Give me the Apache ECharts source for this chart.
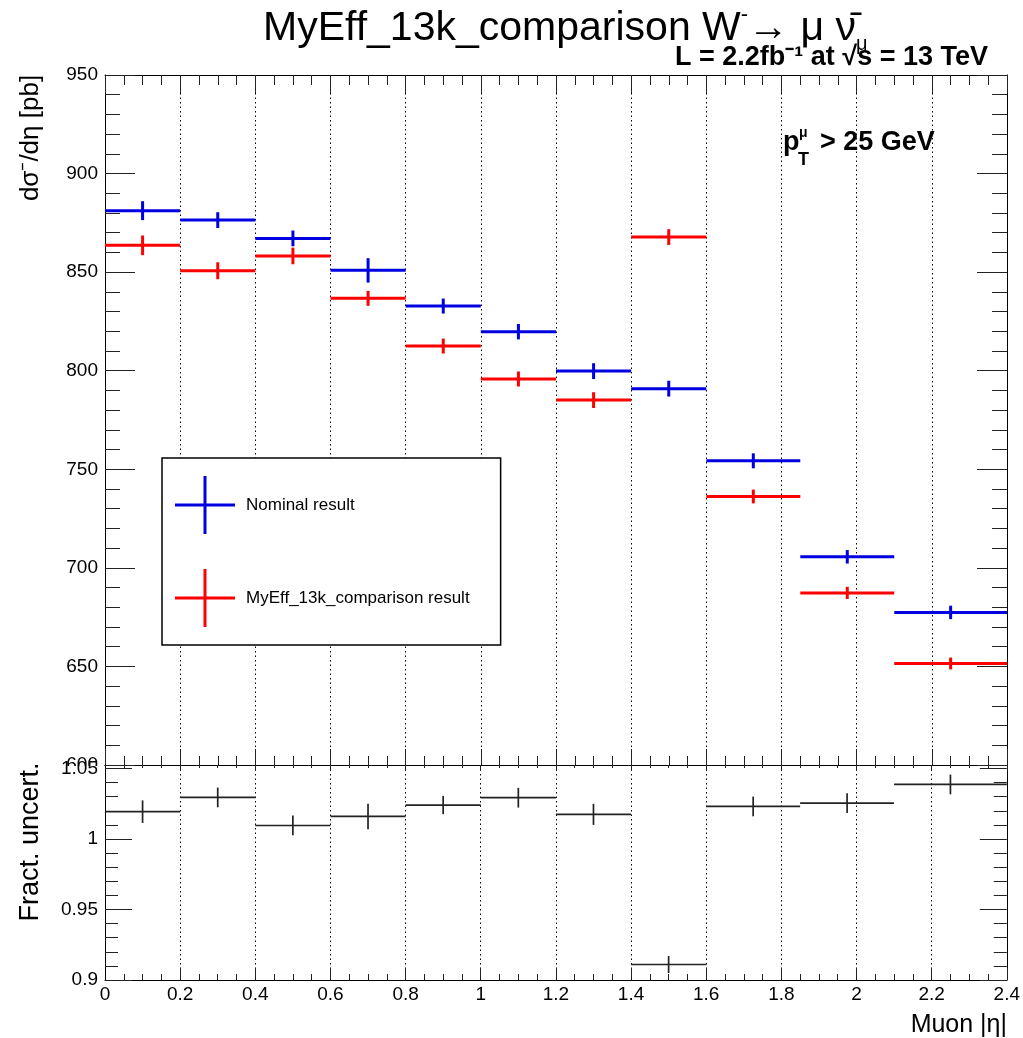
<!DOCTYPE html>
<html>
<head>
<meta charset="utf-8">
<script src="https://cdn.jsdelivr.net/npm/echarts@6/dist/echarts.min.js"></script>
<style>html,body{margin:0;padding:0;background:#fff;}#c{width:1023px;height:1038px;}</style>
</head>
<body>
<div id="c"></div>
<script>
// ---- data ----
const binEdges = [0, 0.2, 0.4, 0.6, 0.8, 1.0, 1.2, 1.4, 1.6, 1.85, 2.1, 2.4];
const nominal = [881.2, 876.4, 867.1, 850.9, 832.8, 819.8, 799.8, 790.9, 754.3, 705.6, 677.4];
const nominalErr = [4.8, 4.0, 4.0, 6.2, 3.8, 3.9, 4.0, 4.0, 3.8, 3.4, 3.4];
const comparison = [863.6, 850.7, 858.2, 836.7, 812.5, 795.8, 785.1, 867.8, 736.2, 687.3, 651.5];
const comparisonErr = [5.0, 4.3, 4.2, 3.8, 3.8, 3.8, 4.0, 4.0, 3.5, 3.1, 3.0];
const ratio = [1.0194, 1.0295, 1.0096, 1.0160, 1.0241, 1.0293, 1.0175, 0.9110, 1.0231, 1.0255, 1.0387];
const ratioErr = [0.008, 0.007, 0.007, 0.009, 0.0065, 0.007, 0.0075, 0.006, 0.007, 0.007, 0.007];
const xTicks = ['0', '0.2', '0.4', '0.6', '0.8', '1', '1.2', '1.4', '1.6', '1.8', '2', '2.2', '2.4'];

function rows(vals, errs) {
  return vals.map((v, i) => [binEdges[i], binEdges[i + 1], (binEdges[i] + binEdges[i + 1]) / 2, v, errs[i]]);
}
function makeRender(lw) {
  return function (params, api) {
    const lo = api.value(0), hi = api.value(1), c = api.value(2), v = api.value(3), e = api.value(4);
    const p1 = api.coord([lo, v]), p2 = api.coord([hi, v]);
    const p3 = api.coord([c, v - e]), p4 = api.coord([c, v + e]);
    const style = { stroke: api.visual('color'), lineWidth: lw };
    return {
      type: 'group',
      children: [
        { type: 'line', shape: { x1: p1[0], y1: p1[1], x2: p2[0], y2: p2[1] }, style: style },
        { type: 'line', shape: { x1: p3[0], y1: p3[1], x2: p4[0], y2: p4[1] }, style: style }
      ]
    };
  };
}

const FONT = 'Liberation Sans, Arial, sans-serif';
const BLUE = '#0000e0';
const RED = '#ff0000';
const plusIcon = 'path://M0,27.5H28.5V0H31.5V27.5H60V30.5H31.5V58H28.5V30.5H0Z';

const xLabelFmt = function (v) {
  const s = (Math.round(v * 10) / 10).toString();
  return xTicks.indexOf(s) >= 0 ? s : '';
};

function xAx(grid, pos, major, minor, labels, split) {
  return {
    type: 'value', gridIndex: grid, position: pos, min: 0, max: 2.4, interval: 0.2,
    axisLine: { show: true, onZero: false, lineStyle: { color: '#000', width: 1 } },
    axisTick: { show: true, inside: true, length: major, lineStyle: { color: '#222' } },
    minorTick: { show: true, splitNumber: 4, length: minor, lineStyle: { color: '#222' } },
    axisLabel: { show: labels, fontSize: 19, color: '#000', margin: 5, fontFamily: FONT, formatter: xLabelFmt },
    splitLine: { show: split, lineStyle: { color: '#000', width: 1, type: [1.5, 3] } }
  };
}

const option = {
  animation: false,
  backgroundColor: '#fff',
  textStyle: { fontFamily: FONT },
  title: {
    left: 263, top: 4, padding: 0,
    text: '{a|MyEff_13k_comparison W}{b|-}{a|→ μ ν̄}{c|μ}',
    textStyle: {
      fontWeight: 'normal',
      rich: {
        a: { fontSize: 41, fontFamily: FONT, fontWeight: 'normal', color: '#000', lineHeight: 50 },
        b: { fontSize: 22, fontFamily: FONT, fontWeight: 'normal', color: '#000', verticalAlign: 'top', lineHeight: 22 },
        c: { fontSize: 20, fontFamily: FONT, fontWeight: 'normal', color: '#000', verticalAlign: 'bottom', lineHeight: 20 }
      }
    }
  },
  legend: {
    orient: 'vertical', left: 162, top: 458,
    padding: [18, 31, 18, 13], itemGap: 35, itemWidth: 60, itemHeight: 58,
    borderColor: '#000', borderWidth: 1.5, backgroundColor: '#fff',
    textStyle: { fontSize: 17, color: '#000', fontFamily: FONT, padding: [0, 0, 0, 6] },
    data: [
      { name: 'Nominal result', icon: plusIcon, itemStyle: { color: BLUE } },
      { name: 'MyEff_13k_comparison result', icon: plusIcon, itemStyle: { color: RED } }
    ]
  },
  grid: [
    { left: 105, right: 16, top: 75, height: 690 },
    { left: 105, right: 16, top: 765, height: 215 }
  ],
  xAxis: [
    xAx(0, 'bottom', 16, 9, false, true),
    xAx(0, 'top', 18, 10, false, false),
    xAx(1, 'bottom', 12, 6, true, true),
    xAx(1, 'top', 6, 3, false, false)
  ],
  yAxis: [
    {
      type: 'value', gridIndex: 0, position: 'left', min: 600, max: 950, interval: 50, z: 0,
      axisLine: { show: true, onZero: false, lineStyle: { color: '#000', width: 1 } },
      axisTick: { show: true, inside: true, length: 30, lineStyle: { color: '#222' } },
      minorTick: { show: true, splitNumber: 5, length: 15, lineStyle: { color: '#222' } },
      axisLabel: { fontSize: 19, color: '#000', margin: 7, fontFamily: FONT },
      splitLine: { show: false }
    },
    {
      type: 'value', gridIndex: 0, position: 'right', min: 600, max: 950, interval: 50,
      axisLine: { show: true, onZero: false, lineStyle: { color: '#000', width: 1 } },
      axisTick: { show: true, inside: true, length: 30, lineStyle: { color: '#222' } },
      minorTick: { show: true, splitNumber: 5, length: 15, lineStyle: { color: '#222' } },
      axisLabel: { show: false },
      splitLine: { show: false }
    },
    {
      type: 'value', gridIndex: 1, position: 'left', min: 0.9, max: 1.0525, interval: 0.05, z: 5,
      axisLine: { show: true, onZero: false, lineStyle: { color: '#000', width: 1 } },
      axisTick: { show: true, inside: true, length: 27, lineStyle: { color: '#222' } },
      minorTick: { show: true, splitNumber: 5, length: 13, lineStyle: { color: '#222' } },
      axisLabel: { fontSize: 19, color: '#000', margin: 7, fontFamily: FONT, showMaxLabel: false,
        formatter: function (v) { return (Math.round(v * 100) / 100).toString(); } },
      splitLine: { show: false }
    },
    {
      type: 'value', gridIndex: 1, position: 'right', min: 0.9, max: 1.0525, interval: 0.05,
      axisLine: { show: true, onZero: false, lineStyle: { color: '#000', width: 1 } },
      axisTick: { show: true, inside: true, length: 27, lineStyle: { color: '#222' } },
      minorTick: { show: true, splitNumber: 5, length: 13, lineStyle: { color: '#222' } },
      axisLabel: { show: false },
      splitLine: { show: false }
    }
  ],
  series: [
    {
      name: 'Nominal result', type: 'custom', xAxisIndex: 0, yAxisIndex: 0,
      itemStyle: { color: BLUE }, renderItem: makeRender(3),
      encode: { x: [0, 1, 2], y: [3] }, data: rows(nominal, nominalErr), z: 3
    },
    {
      name: 'MyEff_13k_comparison result', type: 'custom', xAxisIndex: 0, yAxisIndex: 0,
      itemStyle: { color: RED }, renderItem: makeRender(3),
      encode: { x: [0, 1, 2], y: [3] }, data: rows(comparison, comparisonErr), z: 2
    },
    {
      name: 'ratio', type: 'custom', xAxisIndex: 2, yAxisIndex: 2,
      itemStyle: { color: '#222' }, renderItem: makeRender(1.7),
      encode: { x: [0, 1, 2], y: [3] }, data: rows(ratio, ratioErr), z: 2
    }
  ],
  graphic: [
    { type: 'rect', z: 1, shape: { x: 50, y: 766, width: 54, height: 22 }, style: { fill: '#fff' } },
    { type: 'text', x: 988, y: 58, style: { text: 'L = 2.2fb⁻¹ at √s = 13 TeV', font: 'bold 27px ' + FONT, fill: '#000', align: 'right', verticalAlign: 'middle' } },
    { type: 'text', x: 31, y: 138, rotation: Math.PI / 2, style: { text: 'dσ⁻/dη [pb]', font: '26px ' + FONT, fill: '#000', align: 'center', verticalAlign: 'middle' } },
    { type: 'text', x: 31, y: 842, rotation: Math.PI / 2, style: { text: 'Fract. uncert.', font: '27px ' + FONT, fill: '#000', align: 'center', verticalAlign: 'middle' } },
    { type: 'text', x: 1007, y: 1025, style: { text: 'Muon |η|', font: '25px ' + FONT, fill: '#000', align: 'right', verticalAlign: 'middle' } },
    { type: 'text', x: 783, y: 143, style: { text: 'p', font: 'bold 27px ' + FONT, fill: '#000', align: 'left', verticalAlign: 'middle' } },
    { type: 'text', x: 799, y: 133, style: { text: 'μ', font: 'bold 14px ' + FONT, fill: '#000', align: 'left', verticalAlign: 'middle' } },
    { type: 'text', x: 798, y: 160, style: { text: 'T', font: 'bold 18px ' + FONT, fill: '#000', align: 'left', verticalAlign: 'middle' } },
    { type: 'text', x: 820, y: 143, style: { text: '> 25 GeV', font: 'bold 27px ' + FONT, fill: '#000', align: 'left', verticalAlign: 'middle' } }
  ]
};

const chart = echarts.init(document.getElementById('c'), null, { renderer: 'canvas' });
chart.setOption(option);
</script>
</body>
</html>
